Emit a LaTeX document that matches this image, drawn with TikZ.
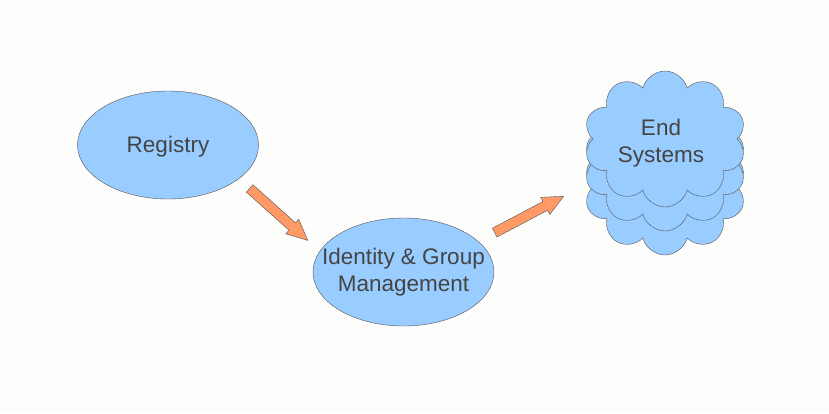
\documentclass[tikz,border=0pt]{standalone}
\usepackage{fontspec}
\setmainfont{Liberation Sans}
\usetikzlibrary{shapes.geometric}
\usetikzlibrary{shapes.symbols}
\usetikzlibrary{shapes.arrows}

\definecolor{boxblue}{RGB}{153,204,255}
\definecolor{edgegray}{RGB}{85,85,85}
\definecolor{textgray}{RGB}{68,68,68}
\definecolor{arroworange}{RGB}{255,153,102}
\definecolor{paper}{RGB}{253,253,251}

\tikzset{
    blob/.style = {ellipse, draw = edgegray, fill = boxblue, minimum width = 181pt, minimum height = 108pt},
    puff/.style = {cloud, cloud puffs = 10, cloud ignores aspect, draw = edgegray, fill = boxblue,
        minimum width = 162pt, minimum height = 136pt, inner sep = 0pt},
    caption/.style = {align = center, text = textgray, font = \fontsize{22.5pt}{26.5pt}\selectfont},
    blockarrow/.style = {single arrow, draw = edgegray, fill = arroworange, anchor = tail,
        minimum height = 78pt, inner sep = 4.75pt, single arrow head extend = 4.75pt,
        single arrow tip angle = 50}
}

\begin{document}
\begin{tikzpicture}[x = 1pt, y = -1pt]
            \fill[paper] (0,0) rectangle (829,413);
            \useasboundingbox (0,0) rectangle (829,413);
            \node[blob] (reg) at (168,145) {};
            \node[caption] (regtext) at ([yshift = -2pt]reg.center) {Registry};
            \node[blob] (idm) at (403.5,272) {};
            \node[caption] (idmtext) at (idm.center) {Identity \& Group\\Management};
            \node[puff] (es3) at (665,187) {};
            \node[puff] (es2) at (665,163) {};
            \node[puff] (es1) at (665,139) {};
            \node[caption] (estext) at (661,143) {End\\Systems};
            \coordinate (r2i) at (249.5,188.3);
            \coordinate (i2e) at (494.5,232.7);
            \node[blockarrow, rotate = -41.8] (a1) at (r2i) {};
            \node[blockarrow, rotate = 27.8] (a2) at (i2e) {};
        \end{tikzpicture}
\end{document}
